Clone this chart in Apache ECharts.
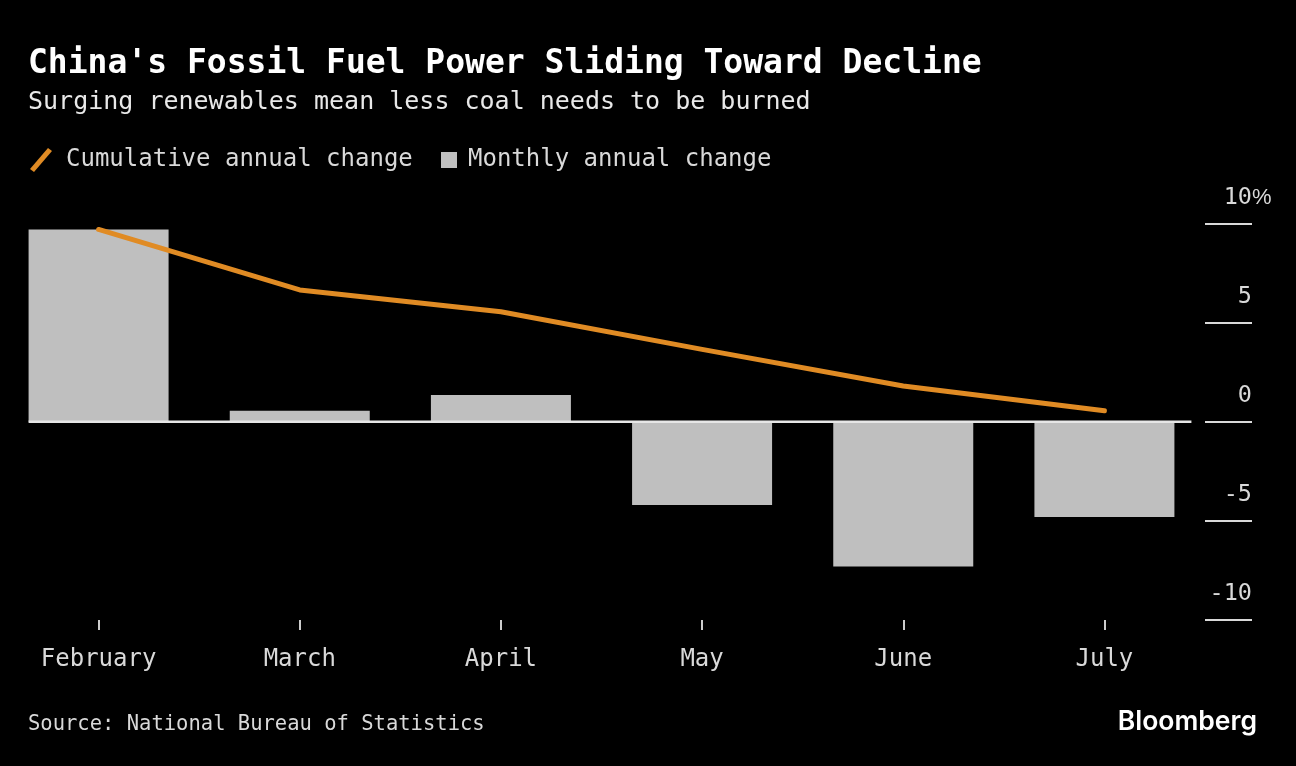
<!DOCTYPE html>
<html>
<head>
<meta charset="utf-8">
<script src="https://cdn.jsdelivr.net/npm/echarts@6/dist/echarts.min.js"></script>
<style>
html,body{margin:0;padding:0;background:#000;overflow:hidden;}
#chart{width:1298px;height:766px;margin-left:-2px;}
</style>
</head>
<body>
<div id="chart"></div>
<script>
const categories = ['February', 'March', 'April', 'May', 'June', 'July'];
const monthlyChange = [9.7, 0.55, 1.35, -4.2, -7.3, -4.8];
const cumulativeChange = [9.7, 6.65, 5.55, 3.65, 1.8, 0.55];
const yTicks = { min: -10, max: 10, interval: 5 };

const MONO = '"DejaVu Sans Mono", "Liberation Mono", monospace';
const chart = echarts.init(document.getElementById('chart'));

function padLabel(v) {
  let s = String(v);
  while (s.length < 3) s = ' ' + s;
  return s;
}

const option = {
  backgroundColor: '#000000',
  animation: false,
  title: [
    { text: "China's Fossil Fuel Power Sliding Toward Decline", left: 30, top: 44, padding: 0,
      textStyle: { color: '#ffffff', fontFamily: MONO, fontWeight: 'bold', fontSize: 33, lineHeight: 40 } },
    { text: 'Surging renewables mean less coal needs to be burned', left: 30, top: 87, padding: 0,
      textStyle: { color: '#e8e8e8', fontFamily: MONO, fontWeight: 'normal', fontSize: 25, lineHeight: 30 } },
    { text: 'Source: National Bureau of Statistics', left: 30, top: 712, padding: 0,
      textStyle: { color: '#d9d9d9', fontFamily: MONO, fontWeight: 'normal', fontSize: 20.5, lineHeight: 26 } },
    { text: 'Bloomberg', right: 39, top: 707, padding: 0,
      textStyle: { color: '#ffffff', fontFamily: 'Inter, Roboto, sans-serif', fontWeight: 600, fontSize: 26.5, lineHeight: 30 } }
  ],
  legend: [
    { data: ['Cumulative annual change'], left: 32, top: 148, padding: 0,
      itemWidth: 22, itemHeight: 24,
      icon: 'path://M0,21 L18,0 L22,3 L4,24 Z',
      textStyle: { color: '#d9d9d9', fontFamily: MONO, fontSize: 24, lineHeight: 24, padding: [0, 0, 0, 9] } },
    { data: ['Monthly annual change'], left: 443, top: 148, padding: 0,
      itemWidth: 16, itemHeight: 16, icon: 'rect',
      textStyle: { color: '#d9d9d9', fontFamily: MONO, fontSize: 24, lineHeight: 24, padding: [0, 0, 0, 6] } }
  ],
  grid: { left: 0, right: 91, top: 223.5, bottom: 146, containLabel: false },
  xAxis: {
    type: 'category',
    data: categories,
    position: 'bottom',
    axisLine: { show: false, onZero: false },
    axisTick: { show: true, alignWithLabel: true, length: 10, lineStyle: { color: '#cccccc', width: 2 } },
    axisLabel: { color: '#d9d9d9', fontFamily: MONO, fontSize: 24, margin: 28, interval: 0 },
    splitLine: { show: false }
  },
  yAxis: {
    type: 'value',
    position: 'right',
    min: yTicks.min, max: yTicks.max, interval: yTicks.interval,
    axisLine: { show: false },
    axisTick: { show: true, length: 47, lineStyle: { color: '#d9d9d9', width: 2 } },
    splitLine: { show: false },
    axisLabel: {
      color: '#d9d9d9', fontFamily: MONO, fontSize: 23.5,
      align: 'left', verticalAlign: 'bottom', margin: 4.5, padding: [0, 0, 14, 0],
      formatter: function (v) {
        return v === yTicks.max ? '{n|' + padLabel(v) + '}{p|%}' : '{n|' + padLabel(v) + '}';
      },
      rich: {
        n: { color: '#d9d9d9', fontFamily: MONO, fontSize: 23.5 },
        p: { color: '#d9d9d9', fontFamily: '"Liberation Sans Narrow", "Liberation Sans", sans-serif', fontSize: 22 }
      }
    }
  },
  series: [
    {
      name: 'Monthly annual change',
      type: 'bar',
      data: monthlyChange,
      barWidth: 140,
      itemStyle: { color: '#bfbfbf' },
      z: 2
    },
    {
      name: 'zero',
      type: 'custom',
      data: [0],
      silent: true,
      z: 3,
      renderItem: function (params, api) {
        const first = api.coord([0, 0]);
        const last = api.coord([categories.length - 1, 0]);
        return {
          type: 'line',
          shape: { x1: first[0] - 70, y1: first[1], x2: last[0] + 87, y2: last[1] },
          style: { stroke: '#e6e6e6', lineWidth: 2.5 }
        };
      }
    },
    {
      name: 'Cumulative annual change',
      type: 'line',
      data: cumulativeChange,
      symbol: 'none',
      lineStyle: { color: '#e08b24', width: 5, cap: 'round', join: 'round' },
      itemStyle: { color: '#e08b24' },
      z: 4
    }
  ]
};
chart.setOption(option);
</script>
</body>
</html>
